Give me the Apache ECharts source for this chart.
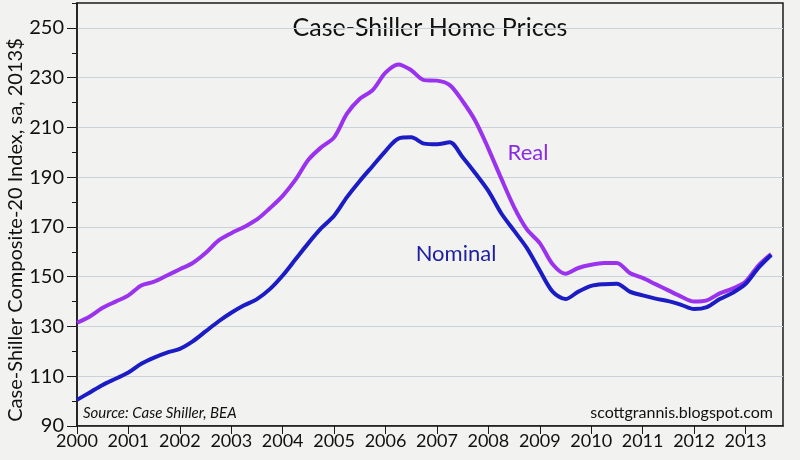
<!DOCTYPE html>
<html>
<head>
<meta charset="utf-8">
<script src="https://cdn.jsdelivr.net/npm/echarts@6/dist/echarts.min.js"></script>
<style>
html,body{margin:0;padding:0;background:#f2f2f0;}
#chart{width:800px;height:460px;}
</style>
</head>
<body>
<div id="chart"></div>
<script>
// Decimal-year dates (quarterly samples)
const dates = [
  2000.00,2000.25,2000.50,2000.75,2001.00,2001.25,2001.50,2001.75,
  2002.00,2002.25,2002.50,2002.75,2003.00,2003.25,2003.50,2003.75,
  2004.00,2004.25,2004.50,2004.75,2005.00,2005.25,2005.50,2005.75,
  2006.00,2006.25,2006.50,2006.75,2007.00,2007.25,2007.50,2007.75,
  2008.00,2008.25,2008.50,2008.75,2009.00,2009.25,2009.50,2009.75,
  2010.00,2010.25,2010.50,2010.75,2011.00,2011.25,2011.50,2011.75,
  2012.00,2012.25,2012.50,2012.75,2013.00,2013.25,2013.50
];
const nominal = [
  100.5,103.5,106.5,109.0,111.5,115.0,117.5,119.5,
  121.0,124.0,128.0,132.0,135.5,138.5,141.0,145.0,
  150.5,157.0,163.5,169.5,174.5,182.0,188.5,194.5,
  200.5,205.5,206.0,203.5,203.2,204.0,198.0,191.5,
  184.5,175.5,168.5,161.5,152.5,144.0,141.0,144.0,
  146.3,147.0,147.2,144.0,142.5,141.2,140.2,138.7,
  137.0,137.8,141.0,143.5,147.0,153.5,158.7
];
const real = [
  131.5,134.0,137.5,140.0,142.5,146.5,148.0,150.5,
  153.0,155.5,159.5,164.5,167.5,170.0,173.0,177.5,
  182.5,189.0,197.0,202.0,206.0,215.5,221.5,225.0,
  232.0,235.3,233.0,229.0,228.8,227.0,220.5,212.5,
  201.5,189.5,178.0,169.0,163.5,155.0,151.2,153.5,
  154.8,155.5,155.5,151.5,149.5,147.0,144.5,142.0,
  140.0,140.5,143.3,145.2,148.0,154.5,159.1
];
const yLabels = [90,110,130,150,170,190,210,230,250];
const yMinor = [90,100,110,120,130,140,150,160,170,180,190,200,210,220,230,240,250,260];
const xYears = [2000,2001,2002,2003,2004,2005,2006,2007,2008,2009,2010,2011,2012,2013];

const FONT = 'Lato, "Noto Sans", sans-serif';
const pair = arr => dates.map((d, i) => [d, arr[i]]);

const chart = echarts.init(document.getElementById('chart'), null, {renderer: 'canvas'});
chart.setOption({
  backgroundColor: '#f2f2f0',
  animation: false,
  textStyle: {fontFamily: FONT},
  grid: {left: 77, right: 17, top: 3, bottom: 34, show: true, borderColor: '#1a1a1a', borderWidth: 1.5, backgroundColor: 'transparent'},
  xAxis: {
    type: 'value', min: 2000, max: 2013.73, interval: 1,
    axisLine: {show: true, lineStyle: {color: '#1a1a1a', width: 1.5}},
    axisTick: {show: true, length: 8, lineStyle: {color: '#1a1a1a'}, customValues: xYears},
    axisLabel: {color: '#111', fontSize: 18, margin: 6, fontFamily: FONT, customValues: xYears, formatter: v => String(Math.round(v))},
    splitLine: {show: false}
  },
  yAxis: [
    {
      type: 'value', min: 90, max: 260, interval: 10, position: 'left',
      axisLine: {show: true, lineStyle: {color: '#1a1a1a', width: 1.5}},
      axisTick: {show: true, length: 10, lineStyle: {color: '#1a1a1a'}, customValues: yLabels},
      axisLabel: {color: '#111', fontSize: 20, margin: 13, fontFamily: FONT, customValues: yLabels},
      splitLine: {show: true, lineStyle: {color: '#c9d2d9', width: 1.2}}
    },
    {
      type: 'value', min: 90, max: 260, interval: 10, position: 'left',
      axisLine: {show: false},
      axisTick: {show: true, length: 5, lineStyle: {color: '#1a1a1a'}, customValues: yMinor},
      axisLabel: {show: false},
      splitLine: {show: false}
    }
  ],
  series: [
    {name: 'Real', type: 'line', data: pair(real), showSymbol: false, smooth: 0.3,
     lineStyle: {color: '#9a32ee', width: 4}, itemStyle: {color: '#9a32ee'}, z: 2},
    {name: 'Nominal', type: 'line', data: pair(nominal), showSymbol: false, smooth: 0.3,
     lineStyle: {color: '#1c1cc4', width: 4}, itemStyle: {color: '#1c1cc4'}, z: 3}
  ],
  graphic: [
    {type: 'text', x: 430, y: 28, style: {text: 'Case-Shiller Home Prices', font: '25px ' + FONT, fill: '#111', textAlign: 'center', textVerticalAlign: 'middle'}},
    {type: 'text', x: 16, y: 230, rotation: Math.PI / 2, style: {text: 'Case-Shiller Composite-20 Index, sa, 2013$', font: '20px ' + FONT, fill: '#111', textAlign: 'center', textVerticalAlign: 'middle'}},
    {type: 'text', x: 528, y: 153, style: {text: 'Real', font: '22px ' + FONT, fill: '#8a2be2', textAlign: 'center', textVerticalAlign: 'middle'}},
    {type: 'text', x: 456, y: 254, style: {text: 'Nominal', font: '22px ' + FONT, fill: '#1e1ea0', textAlign: 'center', textVerticalAlign: 'middle'}},
    {type: 'text', x: 83, y: 413, style: {text: 'Source: Case Shiller, BEA', font: 'italic 15px ' + FONT, fill: '#111', textAlign: 'left', textVerticalAlign: 'middle'}},
    {type: 'text', x: 773, y: 413, style: {text: 'scottgrannis.blogspot.com', font: '16px ' + FONT, fill: '#111', textAlign: 'right', textVerticalAlign: 'middle'}}
  ]
});
</script>
</body>
</html>
